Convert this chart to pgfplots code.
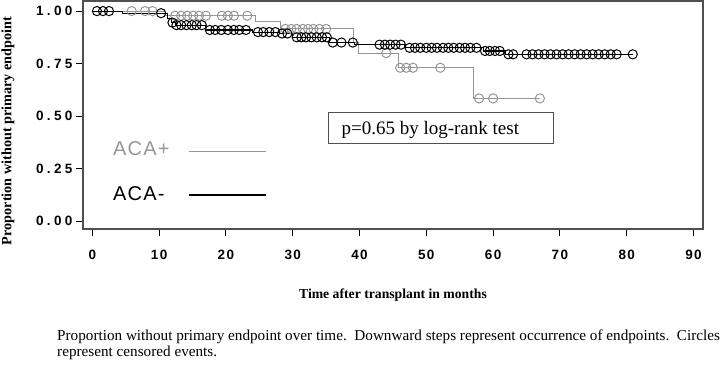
\documentclass[border=0pt]{standalone}
\usepackage{pgfplots}
\pgfplotsset{compat=1.18}
\usepackage{fontspec}
\setmainfont{Liberation Serif}
\newfontfamily\ticksfont{Liberation Sans}[LetterSpace=10]
\newfontfamily\yticksfont{Liberation Sans}[LetterSpace=25]
\newfontfamily\legfont{Liberation Sans}[LetterSpace=6]
\definecolor{acapos}{RGB}{150,150,150}
\definecolor{framec}{RGB}{80,80,80}
\begin{document}
\begin{tikzpicture}
\path[use as bounding box] (-83bp,229bp) rectangle (637bp,-136bp);
\begin{axis}[
  at={(0,0)}, anchor=south west,
  scale only axis, width=620bp, height=228bp,
  xmin=-1.39, xmax=91.42, ymin=-0.038, ymax=1.048,
  axis line style={draw=framec, line width=1.2bp},
  xtick={0,10,...,90}, ytick={0,0.25,0.5,0.75,1},
  tick align=outside, tick pos=left, major tick length=7bp,
  major tick style={black, line width=1bp},
  /pgf/number format/assume math mode=true,
  yticklabel style={/pgf/number format/fixed, /pgf/number format/fixed zerofill, /pgf/number format/precision=2,
     font=\yticksfont\bfseries\fontsize{13.5bp}{15bp}\selectfont},
  xticklabel style={font=\ticksfont\bfseries\fontsize{13.5bp}{15bp}\selectfont, yshift=-11bp},
  xlabel={Time after transplant in months},
  ylabel={Proportion without primary endpoint},
  label style={font=\bfseries\fontsize{13.7bp}{15bp}\selectfont},
  xlabel style={at={(axis description cs:0.5,-0.289)}, anchor=center},
  ylabel style={at={(axis description cs:-0.121,0.43)}, anchor=center, font=\bfseries\fontsize{14.2bp}{15bp}\selectfont},
  clip=false,
]
% ACA+ (grey) step curve
\addplot[const plot, acapos, line width=1.1bp] coordinates {
 (0,1) (11,0.978) (24.4,0.952) (28.2,0.915) (39.1,0.85) (39.9,0.80)
 (45.8,0.73) (57,0.584) (67,0.584)};
\addplot[only marks, mark=o, acapos, mark size=4.6bp, mark options={line width=1bp}] coordinates {
 (5.9,1) (7.9,1) (9.0,1)
 (12.4,0.978) (13.3,0.978) (14.2,0.978) (15.1,0.978) (16.0,0.978) (17.0,0.978)
 (19.4,0.978) (20.3,0.978) (21.2,0.978) (23.2,0.978)
 (28.9,0.915) (29.8,0.915) (30.6,0.915) (31.5,0.915) (32.3,0.915) (33.1,0.915) (34.0,0.915) (35.0,0.915)
 (44.0,0.80)
 (46.1,0.73) (47.0,0.73) (48.0,0.73) (52.1,0.73)
 (57.9,0.584) (60.0,0.584) (67.0,0.584)};
% ACA- (black) step curve
\addplot[const plot, black, line width=1.1bp] coordinates {
 (0,1) (4.5,0.99) (11.2,0.965) (11.8,0.945) (12.4,0.933) (16.9,0.91)
 (24.0,0.90) (28.0,0.893) (30.0,0.875) (35.5,0.85) (39.3,0.84)
 (46.8,0.825) (58.5,0.81) (61.8,0.794) (81,0.794)};
\addplot[only marks, mark=o, black, mark size=4.6bp, mark options={line width=1bp}] coordinates {
 (0.7,1) (1.6,1) (2.5,1)
 (10.3,0.99)
 (12.0,0.945)
 (12.6,0.933) (13.3,0.933) (14.1,0.933) (14.9,0.933) (15.6,0.933) (16.4,0.933)
 (17.6,0.91) (18.4,0.91) (19.3,0.91) (20.3,0.91) (21.2,0.91) (22.0,0.91) (23.0,0.91)
 (24.8,0.90) (25.6,0.90) (26.5,0.90) (27.4,0.90)
 (28.4,0.893) (29.2,0.893)
 (30.6,0.875) (31.3,0.875) (32.0,0.875) (32.8,0.875) (33.6,0.875) (34.4,0.875) (35.1,0.875)
 (36.0,0.85) (37.3,0.85) (39.0,0.85)
 (43.0,0.84) (43.8,0.84) (44.6,0.84) (45.4,0.84) (46.2,0.84)
 (47.5,0.825) (48.3,0.825) (49.1,0.825) (50.0,0.825) (50.8,0.825) (51.6,0.825) (52.5,0.825)
 (53.3,0.825) (54.1,0.825) (55.0,0.825) (55.8,0.825) (56.6,0.825) (57.5,0.825)
 (58.8,0.81) (59.5,0.81) (60.3,0.81) (61.0,0.81)
 (62.3,0.794) (63.0,0.794) (65.0,0.794) (65.9,0.794) (66.8,0.794) (67.7,0.794) (68.6,0.794)
 (69.5,0.794) (70.4,0.794) (71.3,0.794) (72.2,0.794) (73.1,0.794) (74.0,0.794) (74.9,0.794)
 (75.8,0.794) (76.7,0.794) (77.6,0.794) (78.5,0.794) (80.9,0.794)};
% legend
\node[anchor=west, inner sep=0, text=acapos, font=\legfont\fontsize{20bp}{22bp}\selectfont] at (axis cs:3.1,0.343) {ACA+};
\draw[acapos, line width=1.3bp] (axis cs:14.5,0.33) -- (axis cs:26.0,0.33);
\node[anchor=west, inner sep=0, text=black, font=\legfont\fontsize{20bp}{22bp}\selectfont] at (axis cs:3.1,0.131) {ACA-};
\draw[black, line width=1.3bp] (axis cs:14.5,0.124) -- (axis cs:26.0,0.124);
% p-value box
\draw[framec, line width=1bp] (axis cs:35.4,0.519) rectangle (axis cs:69.0,0.367);
\node[inner sep=0, font=\fontsize{19bp}{21bp}\selectfont] at (axis cs:50.6,0.433) {p=0.65 by log-rank test};
\end{axis}
\node[anchor=west, inner sep=0, font=\fontsize{15.2bp}{17bp}\selectfont] at (-26bp,-108bp) {Proportion without primary endpoint over time.\ \ Downward steps represent occurrence of endpoints.\ \ Circles};
\node[anchor=west, inner sep=0, font=\fontsize{15.2bp}{17bp}\selectfont] at (-26bp,-124bp) {represent censored events.};
\end{tikzpicture}
\end{document}
